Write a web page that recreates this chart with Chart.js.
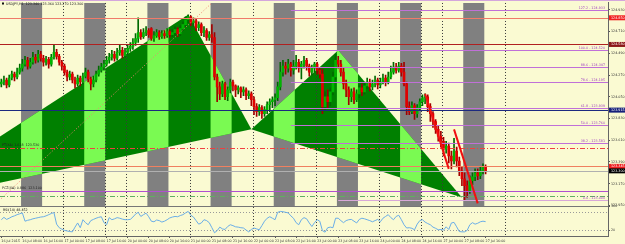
<!DOCTYPE html>
<html><head><meta charset="utf-8">
<script src="https://cdn.jsdelivr.net/npm/chart.js@4.4.0/dist/chart.umd.min.js"></script>
<style>html,body{margin:0;padding:0;background:#FAFAD2;overflow:hidden}#wrap{width:625px;height:244px;position:relative}</style>
</head><body><div id="wrap"><canvas id="c"></canvas></div>
<script>
const symbolTitle = "USDJPY,H1  123.340 123.360 123.270 123.300";
const rsiTitle = "RSI(14) 48.452";
const xTickLabels = ["16 Jul 2015","16 Jul 08:00","16 Jul 16:00","17 Jul 00:00","17 Jul 08:00","17 Jul 16:00","20 Jul 00:00","20 Jul 08:00","20 Jul 16:00","21 Jul 00:00","21 Jul 08:00","21 Jul 16:00","22 Jul 00:00","22 Jul 08:00","22 Jul 16:00","23 Jul 00:00","23 Jul 08:00","23 Jul 16:00","24 Jul 00:00","24 Jul 08:00","24 Jul 16:00","27 Jul 00:00","27 Jul 08:00","27 Jul 16:00"];
const barsPerLabel = 8;
const totalSlots = 231;
const candleOpen = [124.18,124.20,124.22,124.17,124.24,124.28,124.25,124.30,124.34,124.38,
124.42,124.36,124.40,124.45,124.42,124.48,124.44,124.40,124.43,124.38,
124.45,124.50,124.46,124.40,124.36,124.30,124.25,124.28,124.22,124.18,
124.24,124.20,124.26,124.30,124.23,124.18,124.22,124.28,124.32,124.35,
124.38,124.42,124.45,124.48,124.44,124.50,124.52,124.47,124.50,124.54,
124.56,124.60,124.64,124.70,124.66,124.70,124.72,124.74,124.64,124.67,
124.70,124.66,124.69,124.67,124.71,124.68,124.70,124.73,124.69,124.74,
124.78,124.83,124.86,124.80,124.82,124.75,124.78,124.70,124.72,124.65,
124.68,124.65,124.25,124.15,124.08,124.18,124.05,124.12,124.20,124.16,
124.12,124.14,124.10,124.12,124.06,124.08,124.02,123.95,123.90,123.94,
123.88,123.92,123.97,124.00,124.02,124.04,124.15,124.30,124.36,124.34,
124.38,124.32,124.36,124.40,124.34,124.38,124.42,124.36,124.30,124.34,
124.38,124.32,124.28,123.95,124.05,124.00,124.10,124.25,124.42,124.38,
124.30,124.18,124.12,124.05,124.10,124.02,124.08,124.14,124.10,124.16,
124.20,124.15,124.18,124.22,124.17,124.20,124.24,124.20,124.25,124.30,
124.35,124.32,124.36,124.30,124.18,123.95,123.90,123.96,123.88,123.94,
124.00,124.04,124.05,123.95,123.88,123.80,123.72,123.65,123.60,123.52,
123.55,123.45,123.40,123.50,123.40,123.30,123.22,123.15,123.10,123.20,
123.24,123.28,123.25,123.30,123.34];
const candleHigh = [124.23,124.26,124.24,124.27,124.31,124.30,124.34,124.38,124.43,124.46,
124.45,124.44,124.50,124.48,124.52,124.51,124.47,124.46,124.45,124.48,
124.57,124.53,124.48,124.42,124.38,124.32,124.31,124.30,124.25,124.27,
124.26,124.29,124.34,124.32,124.25,124.26,124.31,124.36,124.39,124.42,
124.46,124.49,124.52,124.51,124.54,124.57,124.55,124.54,124.58,124.60,
124.64,124.69,124.85,124.73,124.74,124.76,124.74,124.75,124.71,124.73,
124.72,124.72,124.72,124.74,124.73,124.73,124.76,124.75,124.77,124.81,
124.86,124.88,124.87,124.85,124.84,124.81,124.80,124.76,124.74,124.71,
124.78,124.70,124.28,124.20,124.21,124.20,124.15,124.23,124.22,124.17,
124.16,124.15,124.15,124.14,124.11,124.10,124.05,123.98,123.97,123.96,
123.95,124.00,124.03,124.05,124.08,124.20,124.40,124.42,124.40,124.43,
124.40,124.42,124.47,124.43,124.41,124.46,124.44,124.38,124.37,124.40,
124.40,124.34,124.33,124.10,124.12,124.14,124.30,124.48,124.46,124.42,
124.34,124.22,124.15,124.13,124.14,124.12,124.17,124.18,124.20,124.24,
124.23,124.22,124.26,124.24,124.24,124.28,124.27,124.30,124.36,124.40,
124.39,124.40,124.39,124.40,124.20,124.00,124.00,123.98,123.97,124.03,
124.07,124.08,124.07,123.98,123.90,123.82,123.76,123.70,123.64,123.60,
123.58,123.50,123.63,123.54,123.44,123.34,123.28,123.20,123.25,123.28,
123.32,123.32,123.34,123.37,123.36];
const candleLow = [124.15,124.17,124.14,124.15,124.22,124.21,124.23,124.28,124.31,124.36,
124.33,124.34,124.38,124.39,124.40,124.41,124.36,124.37,124.34,124.36,
124.43,124.43,124.37,124.32,124.27,124.21,124.22,124.19,124.14,124.16,
124.16,124.18,124.24,124.20,124.12,124.15,124.20,124.26,124.30,124.32,
124.36,124.39,124.42,124.41,124.42,124.47,124.44,124.45,124.48,124.51,
124.53,124.57,124.60,124.63,124.64,124.67,124.65,124.62,124.61,124.65,
124.63,124.64,124.64,124.65,124.65,124.66,124.67,124.66,124.67,124.72,
124.76,124.80,124.77,124.76,124.72,124.72,124.67,124.66,124.62,124.62,
124.60,124.22,124.00,124.02,124.05,124.02,124.01,124.09,124.11,124.05,
124.08,124.04,124.06,124.02,124.03,123.96,123.87,123.85,123.86,123.83,
123.85,123.88,123.90,123.94,123.96,124.01,124.12,124.26,124.28,124.30,
124.26,124.28,124.33,124.30,124.23,124.34,124.32,124.26,124.27,124.30,
124.28,124.24,123.88,123.92,123.93,123.96,124.07,124.22,124.34,124.26,
124.13,124.05,123.97,124.00,123.98,124.00,124.04,124.06,124.08,124.13,
124.11,124.12,124.15,124.13,124.14,124.18,124.16,124.18,124.23,124.28,
124.29,124.30,124.26,124.16,123.87,123.87,123.88,123.82,123.84,123.92,
123.96,123.98,123.90,123.80,123.74,123.68,123.60,123.54,123.45,123.48,
123.38,123.32,123.37,123.34,123.25,123.15,123.00,123.03,123.07,123.16,
123.20,123.21,123.22,123.27,123.27];
const candleClose = [124.20,124.22,124.17,124.24,124.28,124.25,124.30,124.34,124.38,124.42,
124.36,124.40,124.45,124.42,124.48,124.44,124.40,124.43,124.38,124.45,
124.50,124.46,124.40,124.36,124.30,124.25,124.28,124.22,124.18,124.24,
124.20,124.26,124.30,124.23,124.18,124.22,124.28,124.32,124.35,124.38,
124.42,124.45,124.48,124.44,124.50,124.52,124.47,124.50,124.54,124.56,
124.60,124.64,124.70,124.66,124.70,124.72,124.68,124.64,124.67,124.70,
124.66,124.69,124.67,124.71,124.68,124.70,124.73,124.69,124.74,124.78,
124.83,124.86,124.80,124.82,124.75,124.78,124.70,124.72,124.65,124.68,
124.65,124.25,124.15,124.08,124.18,124.05,124.12,124.20,124.16,124.12,
124.14,124.10,124.12,124.06,124.08,124.02,123.95,123.90,123.94,123.88,
123.92,123.97,124.00,124.02,124.04,124.15,124.30,124.36,124.34,124.38,
124.32,124.36,124.40,124.34,124.38,124.42,124.36,124.30,124.34,124.38,
124.32,124.28,123.95,124.05,124.00,124.10,124.25,124.42,124.38,124.30,
124.18,124.12,124.05,124.10,124.02,124.08,124.14,124.10,124.16,124.20,
124.15,124.18,124.22,124.17,124.20,124.24,124.20,124.25,124.30,124.35,
124.32,124.36,124.30,124.18,123.95,123.90,123.96,123.88,123.94,124.00,
124.04,124.05,123.95,123.88,123.80,123.72,123.65,123.60,123.52,123.55,
123.45,123.40,123.50,123.40,123.30,123.22,123.15,123.10,123.20,123.24,
123.28,123.25,123.30,123.34,123.30];
const rsiValues = [55,63,56,60,65,68,72,75,78,50,
53,55,58,60,62,64,65,68,72,76,
79,40,28,23,19,17,15,14,30,44,
28,55,45,38,52,56,60,63,65,45,
38,62,55,58,62,60,57,55,55,56,
64,74,80,66,72,77,65,50,48,54,
52,47,50,55,61,64,66,65,69,72,
78,83,70,64,52,40,44,55,52,45,
28,11,18,30,24,22,32,38,35,31,
30,28,27,20,14,22,27,24,21,35,
50,60,65,60,55,80,83,82,80,78,
68,60,45,38,55,62,58,44,32,45,
55,50,18,13,28,30,28,60,60,52,
45,52,55,56,50,44,56,60,58,55,
52,48,52,56,48,60,66,72,62,55,
66,70,55,38,27,28,26,21,40,52,
55,47,42,38,30,26,21,22,20,31,
22,44,46,31,15,14,14,19,38,45,
40,43,48,50,48.452];
const priceTicks = [124.930,124.820,124.710,124.600,124.490,124.380,124.270,124.160,124.050,123.940,123.830,123.720,123.610,123.500,123.390,123.280,123.170,123.060,122.950];
const priceMax = 125.00, priceMin = 122.94;
const rsiTicks = [100, 80, 20, 0];
const rsiLevels = [80, 20];
const sessionBandStarts = [8,32,56,80,104,128,152,176];
const sessionBandBars = 8;
const daySeparatorBars = [24,48,72,96,120,144,168,192];
const extraVerticalBars = [40,160];
const triangleXAB_bars = [-41, 71, 95];
const triangleXAB_prices = [122.95, 124.88, 123.72];
const triangleBCD_bars = [95, 128, 175];
const triangleBCD_prices = [123.72, 124.52, 123.03];
const fibHigh = 124.52, fibLow = 123.00, fibStartBar = 110;
const fibLevels = [127.2, 100, 88.6, 78.6, 61.8, 50, 38.2, 0];
const lineRedPrice = 124.85, lineDarkRedPrice = 124.58, lineNavyPrice = 123.915;
const lineDashRedPrice = 123.53, lineAskPrice = 123.345, lineBidPrice = 123.30;
const linePurplePrice = 123.10, lineDashGreenPrice = 123.05;
const dashRedLabel = "PT(XA) 1.618  123.530";
const purpleLabel = "PCZ(XA) 0.886  123.100";
const trendBars1 = [161, 170], trendPrices1 = [124.08, 123.32];
const trendBars2 = [172, 181], trendPrices2 = [123.72, 122.97];
const dotBars = [0, 80], dotPrices = [123.02, 125.00];

const BG = '#FAFAD2';
const FONT = '3.3px "DejaVu Sans"';
const slots = Array.from({length: totalSlots}, (_, i) => i);
const upC = '#00B400', dnC = '#E00000';
const bodyColors = candleOpen.map((o,i)=> candleClose[i] >= o ? upC : dnC);
const wickColors = candleOpen.map((o,i)=> candleClose[i] >= o ? '#006A00' : '#A00000');

const mt4 = {
  id: 'mt4',
  beforeDraw(chart) {
    const {ctx, width, height} = chart;
    ctx.save(); ctx.fillStyle = BG; ctx.fillRect(0,0,width,height); ctx.restore();
  },
  beforeDatasetsDraw(chart) {
    const {ctx, chartArea: ca, scales: {x, y, yr}} = chart;
    const L = ca.left, R = ca.right, T = y.top, B = y.bottom;
    const px = b => x.getPixelForValue(b), py = p => y.getPixelForValue(p);
    ctx.save();
    ctx.beginPath(); ctx.rect(L, T, R-L, B-T); ctx.clip();
    const bands = sessionBandStarts.map(s => [px(s-0.5), px(s+sessionBandBars-0.5)]);
    ctx.fillStyle = '#808080';
    bands.forEach(([a,b]) => ctx.fillRect(a, T, b-a, B-T));
    [[triangleXAB_bars, triangleXAB_prices],[triangleBCD_bars, triangleBCD_prices]].forEach(([bs, ps]) => {
      ctx.save();
      ctx.beginPath();
      bs.forEach((b,i) => { const X = px(b), Y = py(ps[i]); i ? ctx.lineTo(X,Y) : ctx.moveTo(X,Y); });
      ctx.closePath();
      ctx.fillStyle = '#008000'; ctx.fill();
      ctx.clip();
      ctx.fillStyle = '#7AFA52';
      bands.forEach(([a,b]) => ctx.fillRect(a, T, b-a, B-T));
      ctx.restore();
    });
    ctx.restore();
    ctx.save();
    ctx.strokeStyle = '#3a3a3a'; ctx.lineWidth = 1; ctx.setLineDash([1,2]);
    daySeparatorBars.concat(extraVerticalBars).forEach(b => {
      const X = Math.round(px(b - 0.5)) + 0.5;
      ctx.beginPath(); ctx.moveTo(X, T); ctx.lineTo(X, yr.bottom); ctx.stroke();
    });
    ctx.strokeStyle = '#9a9a9a';
    rsiLevels.forEach(v => { const Y = Math.round(yr.getPixelForValue(v)) + 0.5; ctx.beginPath(); ctx.moveTo(L, Y); ctx.lineTo(R, Y); ctx.stroke(); });
    ctx.restore();
  },
  afterDatasetsDraw(chart) {
    const {ctx, chartArea: ca, scales: {x, y, yr}} = chart;
    const L = ca.left, R = ca.right, T = y.top, B = y.bottom;
    const px = b => x.getPixelForValue(b), py = p => y.getPixelForValue(p);
    ctx.save();
    ctx.beginPath(); ctx.rect(L, T, R-L, B-T); ctx.clip();
    const hl = (p, color, dash, x0) => {
      const Y = Math.round(py(p)) + 0.5;
      ctx.strokeStyle = color; ctx.lineWidth = 1; ctx.setLineDash(dash || []);
      ctx.beginPath(); ctx.moveTo(x0 === undefined ? L : x0, Y); ctx.lineTo(R, Y); ctx.stroke();
    };
    ctx.strokeStyle = '#F08070'; ctx.setLineDash([1,2]); ctx.lineWidth = 1;
    ctx.beginPath(); ctx.moveTo(px(dotBars[0]), py(dotPrices[0])); ctx.lineTo(px(dotBars[1]), py(dotPrices[1])); ctx.stroke();
    hl(lineRedPrice, '#F07A6A');
    hl(lineDarkRedPrice, '#B02020');
    hl(lineNavyPrice, '#1C2A80');
    hl(lineDashRedPrice, '#F04040', [5,2,1,2]);
    hl(lineAskPrice, '#F08060');
    hl(lineBidPrice, '#B0B0B0');
    hl(linePurplePrice, '#B050D0');
    hl(lineDashGreenPrice, '#60B060', [5,2,1,2]);
    const fx = px(fibStartBar);
    ctx.font = FONT; ctx.textAlign = 'right'; ctx.textBaseline = 'bottom';
    fibLevels.forEach(lv => {
      const p = fibLow + (fibHigh - fibLow) * lv / 100;
      hl(p, lv === 0 ? '#D8A8D8' : '#C070D8', [], lv === 0 ? px(128) : fx);
      ctx.fillStyle = '#A040C0';
      ctx.fillText(lv.toFixed(1) + ' - ' + p.toFixed(3), R - 3, Math.round(py(p)) - 0.5);
    });
    ctx.setLineDash([]); ctx.strokeStyle = '#F01010'; ctx.lineWidth = 2;
    [[trendBars1, trendPrices1],[trendBars2, trendPrices2]].forEach(([bs, ps]) => {
      ctx.beginPath(); ctx.moveTo(px(bs[0]), py(ps[0])); ctx.lineTo(px(bs[1]), py(ps[1])); ctx.stroke();
    });
    ctx.font = FONT; ctx.textAlign = 'left'; ctx.textBaseline = 'bottom'; ctx.fillStyle = '#202020';
    ctx.fillText(dashRedLabel, 2, Math.round(py(lineDashRedPrice)) - 1);
    ctx.fillText(purpleLabel, 2, Math.round(py(linePurplePrice)) - 1);
    ctx.restore();
  },
  afterDraw(chart) {
    const {ctx, chartArea: ca, scales: {x, y, yr}, width} = chart;
    const py = p => y.getPixelForValue(p);
    ctx.save();
    ctx.strokeStyle = '#777'; ctx.lineWidth = 1;
    ctx.beginPath(); ctx.moveTo(ca.left, Math.round(y.bottom) + 0.5); ctx.lineTo(ca.right, Math.round(y.bottom) + 0.5); ctx.stroke();
    ctx.strokeStyle = '#D4A6DC';
    ctx.beginPath(); ctx.moveTo(0, 0.5); ctx.lineTo(width, 0.5); ctx.stroke();
    ctx.font = FONT; ctx.textBaseline = 'middle'; ctx.textAlign = 'left'; ctx.fillStyle = '#111';
    ctx.fillRect(2, 2.5, 2, 2);
    ctx.fillText(symbolTitle, 6, 4);
    ctx.fillText(rsiTitle, 3, yr.top + 3.5);
    const boxes = [[lineRedPrice, '#F02020'], [lineDarkRedPrice, '#8C1818'], [lineNavyPrice, '#16207A'], [lineAskPrice, '#F02020'], [lineBidPrice, '#000000']];
    boxes.forEach(([p, c]) => {
      const Y = py(p);
      ctx.fillStyle = c; ctx.fillRect(ca.right + 1, Y - 2.5, 16, 5);
      ctx.fillStyle = '#FFFFFF'; ctx.textAlign = 'left';
      ctx.fillText(p.toFixed(3), ca.right + 3, Y);
    });
    ctx.restore();
  }
};

new Chart(document.getElementById('c'), {
  type: 'bar',
  data: {
    labels: slots,
    datasets: [
      { type: 'bar', data: candleLow.map((l,i) => [l, candleHigh[i]]), yAxisID: 'y', backgroundColor: wickColors, barThickness: 1, grouped: false, order: 3, borderWidth: 0 },
      { type: 'bar', data: candleOpen.map((o,i) => [o, candleClose[i]]), yAxisID: 'y', backgroundColor: bodyColors, barThickness: 2, minBarLength: 1, grouped: false, order: 2, borderWidth: 0 },
      { type: 'line', data: rsiValues, yAxisID: 'yr', borderColor: '#6AAEE8', borderWidth: 1, pointRadius: 0, tension: 0, order: 1 }
    ]
  },
  options: {
    responsive: true, maintainAspectRatio: false, animation: false, devicePixelRatio: 1,
    layout: { padding: 0 },
    plugins: { legend: { display: false }, tooltip: { enabled: false }, title: { display: false } },
    scales: {
      x: {
        offset: true,
        grid: { offset: false, drawOnChartArea: false, tickLength: 2, color: c => (c.index % barsPerLabel === 0 && c.index / barsPerLabel < xTickLabels.length) ? '#555' : 'rgba(0,0,0,0)' },
        border: { color: '#666' },
        ticks: { autoSkip: false, maxRotation: 0, minRotation: 0, align: 'start', padding: 1, color: '#333', font: { size: 3.3, family: 'DejaVu Sans' },
          callback: (v, i) => (i % barsPerLabel === 0 && xTickLabels[i / barsPerLabel]) ? xTickLabels[i / barsPerLabel] : '' },
        afterFit: s => { s.height = 8; }
      },
      y: {
        position: 'right', stack: 'pane', stackWeight: 206, min: priceMin, max: priceMax,
        afterBuildTicks: s => { s.ticks = priceTicks.map(v => ({ value: v })); },
        ticks: { padding: 1, color: '#333', font: { size: 3.3, family: 'DejaVu Sans' }, callback: v => Number(v).toFixed(3) },
        grid: { drawOnChartArea: false, tickLength: 2, color: '#555' },
        border: { color: '#666' },
        afterFit: s => { s.width = 17; }
      },
      yr: {
        position: 'right', stack: 'pane', stackWeight: 30, min: 0, max: 100,
        afterBuildTicks: s => { s.ticks = rsiTicks.map(v => ({ value: v })); },
        ticks: { padding: 1, color: '#333', font: { size: 3.3, family: 'DejaVu Sans' } },
        grid: { drawOnChartArea: false, tickLength: 2, color: '#555' },
        border: { color: '#666' },
        afterFit: s => { s.width = 17; }
      }
    }
  },
  plugins: [mt4]
});
</script>
</body></html>
